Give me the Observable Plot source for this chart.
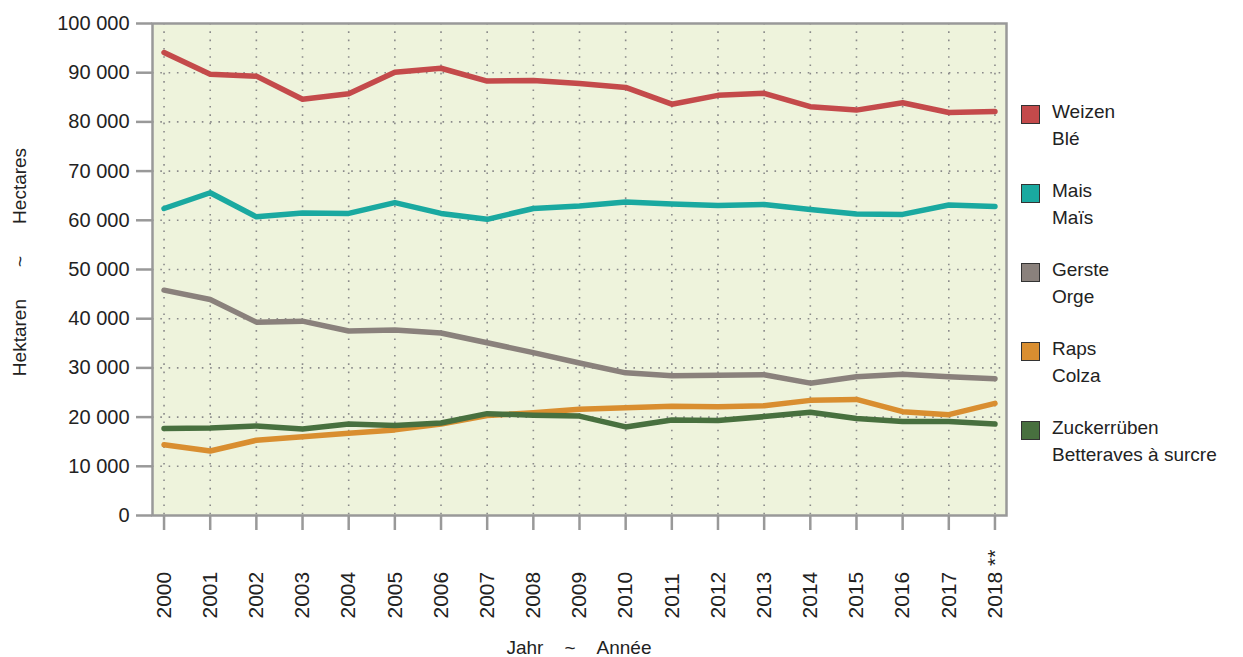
<!DOCTYPE html>
<html>
<head>
<meta charset="utf-8">
<script src="https://cdn.jsdelivr.net/npm/d3@7"></script>
<script src="https://cdn.jsdelivr.net/npm/@observablehq/plot@0.6"></script>
<style>
  html, body { margin: 0; padding: 0; background: #fff; }
  #wrap { position: relative; width: 1243px; height: 657px; font-family: "Liberation Sans", Arial, sans-serif; color: #222; }
  #legend { position: absolute; left: 1021px; top: 101px; }
  .item { position: relative; height: 79px; }
  .sw { position: absolute; left: 0; top: 4px; width: 17px; height: 17px; border: 1.5px solid #333; }
  .lab { position: absolute; left: 31px; top: -3px; font-size: 19px; line-height: 27px; white-space: nowrap; color: #222; }
  #ylab { position: absolute; left: 20px; top: 262px; transform: translate(-50%, -50%) rotate(-90deg); font-size: 19px; white-space: nowrap; }
  #xlab { position: absolute; left: 579px; top: 648px; transform: translate(-50%, -50%); font-size: 19px; white-space: nowrap; }
  #ylab .gap { display: inline-block; margin: 0 32px; }
  #xlab .gap { display: inline-block; margin: 0 21px; }
</style>
</head>
<body>
<div id="wrap">
  <div id="chart"></div>
  <div id="legend"></div>
  <div id="ylab">Hektaren<span class="gap">~</span>Hectares</div>
  <div id="xlab">Jahr<span class="gap">~</span>Année</div>
</div>
<script>
const years = [2000,2001,2002,2003,2004,2005,2006,2007,2008,2009,2010,2011,2012,2013,2014,2015,2016,2017,2018];
const yearLabels = ["2000","2001","2002","2003","2004","2005","2006","2007","2008","2009","2010","2011","2012","2013","2014","2015","2016","2017","2018 **"];
const yTicks = [0,10000,20000,30000,40000,50000,60000,70000,80000,90000,100000];

const seriesDe = ["Weizen","Mais","Gerste","Raps","Zuckerrüben"];
const seriesFr = ["Blé","Maïs","Orge","Colza","Betteraves à surcre"];
const colors = ["#c44a4b","#1aa9a0","#8a817c","#d98e30","#48703f"];

const weizen = [94100,89700,89300,84600,85700,90100,90900,88300,88400,87800,87000,83600,85400,85800,83100,82400,83900,81900,82100];
const mais   = [62400,65600,60700,61500,61400,63600,61400,60200,62400,62900,63700,63300,63000,63200,62200,61300,61200,63100,62800];
const gerste = [45800,43900,39300,39500,37500,37700,37100,35100,33100,31000,29000,28400,28500,28600,26900,28200,28700,28200,27800];
const raps   = [14400,13100,15300,16000,16700,17400,18600,20300,20900,21600,21900,22200,22100,22300,23400,23600,21100,20500,22800];
const zucker = [17700,17800,18200,17600,18600,18300,18800,20700,20400,20200,18000,19400,19300,20100,21000,19700,19100,19100,18600];

const values = [weizen, mais, gerste, raps, zucker];
const data = [];
values.forEach((arr, s) => arr.forEach((v, i) => data.push({year: years[i], value: v, series: seriesDe[s]})));

const fmt = d => d3.format(",")(d).replace(/,/g, " ");

const chart = Plot.plot({
  width: 1243,
  height: 657,
  marginLeft: 152,
  marginRight: 237,
  marginTop: 23,
  marginBottom: 142,
  style: {fontFamily: "'Liberation Sans', Arial, sans-serif", color: "#222", background: "transparent"},
  x: {type: "linear", domain: [1999.75, 2018.25]},
  y: {domain: [0, 100000]},
  color: {domain: seriesDe, range: colors},
  marks: [
    Plot.frame({fill: "#eef3dc", stroke: null}),
    Plot.gridX(years, {stroke: "#8a8a8a", strokeOpacity: 1, strokeWidth: 1.6, strokeDasharray: "1.6,6.7"}),
    Plot.gridY(yTicks.filter(d => d > 0 && d < 100000), {stroke: "#8a8a8a", strokeOpacity: 1, strokeWidth: 1.6, strokeDasharray: "1.6,6.7"}),
    Plot.line(data, {x: "year", y: "value", z: "series", stroke: "series", strokeWidth: 5.5, strokeLinecap: "round", strokeLinejoin: "round"}),
    Plot.frame({stroke: "#999", strokeWidth: 2.5}),
    Plot.axisY({ticks: yTicks, tickSize: 16, tickPadding: 7, tickFormat: fmt, fontSize: 20, stroke: "#999", strokeWidth: 2.5, label: null, fill: "#222"}),
    Plot.axisX({ticks: years, tickSize: 15, tickFormat: () => "", stroke: "#999", strokeWidth: 2.5, label: null}),
    Plot.text(years, {x: d => d, frameAnchor: "bottom", dy: 103, rotate: -90, textAnchor: "start", lineAnchor: "middle", text: (d, i) => yearLabels[i], fontSize: 21, fill: "#222"})
  ]
});
document.getElementById("chart").appendChild(chart);

const legend = document.getElementById("legend");
seriesDe.forEach((name, i) => {
  const item = document.createElement("div");
  item.className = "item";
  item.innerHTML = `<div class="sw" style="background:${colors[i]}"></div><div class="lab">${name}<br>${seriesFr[i]}</div>`;
  legend.appendChild(item);
});
</script>
</body>
</html>
